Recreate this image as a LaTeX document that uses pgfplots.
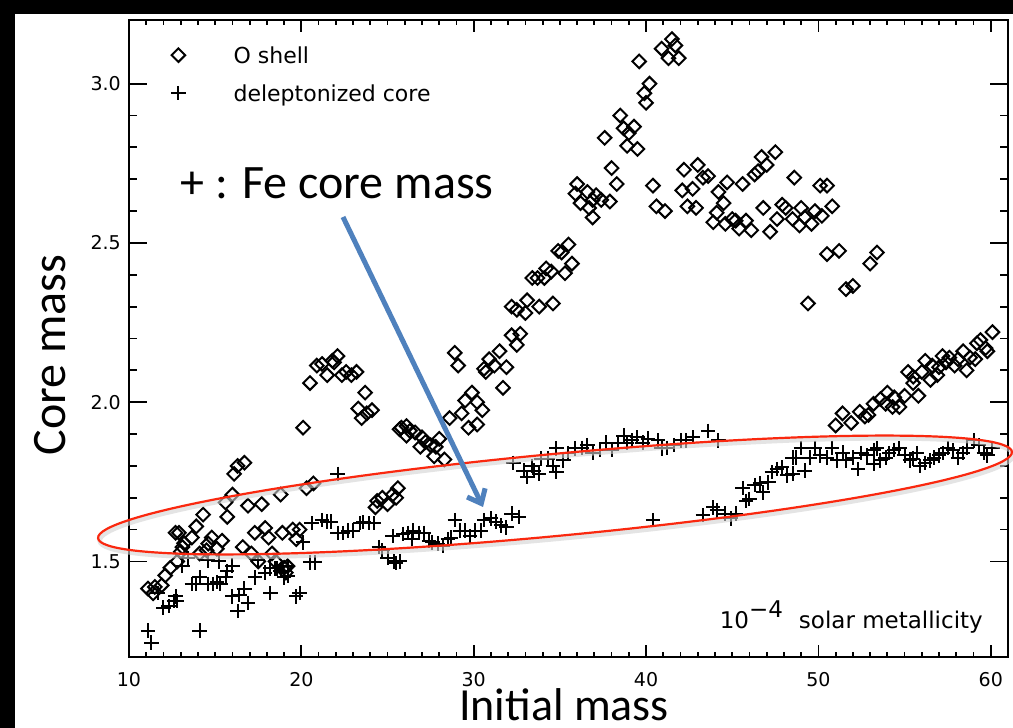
\documentclass[border=0pt]{standalone}
\usepackage{fontspec}
\setmainfont{DejaVu Sans}
\newfontfamily\calibri{Carlito}
\usepackage{pgfplots}
\usepackage{pgfplotstable}
\pgfplotsset{compat=1.18}
\usetikzlibrary{arrows.meta}
\definecolor{arrowblue}{RGB}{79,129,189}
\definecolor{ovalred}{RGB}{250,40,15}

% O shell mass vs initial mass
\pgfplotstableread{
x y
11.1 1.415
11.5 1.42
11.9 1.425
11.4 1.40
12.1 1.456
12.4 1.48
12.8 1.50
13.0 1.53
12.7 1.59
12.9 1.59
13.1 1.545
13.2 1.557
13.65 1.575
13.9 1.61
14.3 1.647
14.1 1.525
14.6 1.556
14.8 1.575
15.1 1.54
15.4 1.565
14.5 1.535
15.7 1.64
15.6 1.685
16.0 1.71
16.1 1.775
16.3 1.80
16.7 1.81
16.6 1.545
16.9 1.675
17.1 1.525
17.3 1.59
17.7 1.68
17.9 1.605
18.1 1.575
17.5 1.50
18.3 1.525
18.5 1.50
18.8 1.71
18.9 1.59
19.0 1.48
19.2 1.485
19.1 1.465
19.5 1.60
19.7 1.57
19.9 1.60
20.1 1.92
20.3 1.73
20.7 1.745
20.5 2.06
20.9 2.115
21.2 2.12
21.5 2.085
21.8 2.13
22.1 2.145
21.9 2.125
22.35 2.085
22.6 2.095
22.9 2.085
23.2 2.095
23.7 2.03
23.3 1.98
23.5 1.95
24.1 1.975
23.8 1.965
24.3 1.67
24.4 1.69
24.7 1.70
25.0 1.68
25.3 1.71
25.5 1.70
25.6 1.73
25.7 1.915
25.8 1.92
26.1 1.925
26.3 1.91
26.6 1.905
26.1 1.895
27.0 1.89
26.9 1.86
27.2 1.875
27.5 1.865
28.0 1.885
27.7 1.83
28.3 1.82
27.8 1.86
28.6 1.95
28.9 2.155
29.1 2.115
29.3 1.965
29.5 2.005
29.9 2.03
30.2 2.00
30.5 1.975
29.7 1.92
30.2 1.93
30.6 2.105
30.9 2.135
31.2 2.115
31.5 2.16
31.9 2.11
31.7 2.045
30.7 2.095
32.2 2.21
32.5 2.18
32.7 2.215
32.2 2.30
32.5 2.29
33.0 2.28
33.1 2.32
33.8 2.30
34.6 2.31
33.4 2.39
33.7 2.39
34.1 2.39
34.2 2.42
34.5 2.41
35.3 2.405
35.7 2.435
34.9 2.475
35.1 2.47
35.5 2.495
35.9 2.655
36.2 2.625
36.6 2.66
36.9 2.635
36.7 2.61
36.9 2.58
37.1 2.65
37.4 2.635
37.9 2.63
36.0 2.685
38.0 2.735
38.3 2.685
37.6 2.83
38.5 2.90
38.7 2.86
39.0 2.845
39.3 2.865
38.9 2.805
39.5 2.795
39.6 3.07
39.9 2.97
40.2 3.00
40.0 2.94
40.9 3.11
41.3 3.08
41.5 3.14
41.7 3.12
41.9 3.08
40.4 2.68
40.6 2.615
41.1 2.60
42.2 2.73
42.1 2.665
42.7 2.67
42.4 2.615
42.9 2.61
43.0 2.745
43.3 2.705
43.6 2.71
43.9 2.565
44.1 2.595
44.2 2.66
44.5 2.625
44.7 2.69
45.6 2.685
44.6 2.56
45.0 2.575
45.2 2.57
45.4 2.545
45.8 2.57
46.1 2.54
46.3 2.715
46.5 2.725
46.7 2.77
47.0 2.745
47.5 2.785
46.8 2.61
47.2 2.535
47.6 2.575
47.9 2.62
48.1 2.61
48.5 2.575
48.6 2.705
48.9 2.555
49.0 2.61
49.2 2.58
49.6 2.56
49.8 2.60
50.2 2.585
50.1 2.68
50.5 2.68
50.8 2.615
49.4 2.31
50.5 2.465
51.2 2.475
51.6 2.355
52.0 2.365
53.0 2.435
53.4 2.47
51.0 1.927
51.4 1.965
51.9 1.935
52.4 1.97
52.7 1.955
52.9 1.96
53.2 1.995
53.6 2.01
53.9 1.995
54.0 2.03
54.3 1.985
54.4 2.015
54.7 1.985
55.0 2.02
55.2 2.095
55.5 2.08
55.5 2.06
55.8 2.02
56.0 2.095
56.2 2.13
56.5 2.07
56.6 2.115
56.9 2.085
57.0 2.11
57.2 2.145
57.4 2.125
57.6 2.14
57.9 2.115
58.1 2.135
58.4 2.16
58.6 2.10
58.8 2.14
59.1 2.135
59.2 2.185
59.4 2.195
59.7 2.17
59.8 2.16
60.1 2.22
}\oshell

% deleptonized (Fe) core mass vs initial mass
\pgfplotstableread{
x y
11.1 1.283
11.3 1.245
12.0 1.355
12.3 1.36
12.6 1.375
12.8 1.375
12.7 1.39
11.7 1.40
13.1 1.487
13.4 1.51
13.65 1.43
13.9 1.43
14.1 1.45
14.1 1.283
14.6 1.43
14.6 1.503
14.9 1.43
15.1 1.435
15.3 1.43
15.6 1.45
15.7 1.47
16.0 1.487
15.2 1.50
16.0 1.39
16.3 1.345
16.4 1.395
16.7 1.415
16.9 1.37
17.3 1.45
17.5 1.503
17.9 1.465
18.2 1.40
18.2 1.478
18.5 1.478
18.6 1.478
18.8 1.47
19.0 1.45
19.2 1.455
19.2 1.485
19.7 1.39
19.9 1.40
20.1 1.56
20.5 1.497
20.8 1.497
20.6 1.62
21.2 1.63
21.5 1.625
21.7 1.625
22.1 1.775
22.1 1.59
22.4 1.59
22.7 1.597
23.0 1.597
23.4 1.62
23.6 1.623
23.9 1.62
24.2 1.62
24.5 1.545
24.7 1.535
25.0 1.51
25.3 1.58
25.5 1.495
25.4 1.50
25.7 1.50
25.9 1.587
26.2 1.59
26.4 1.57
26.5 1.597
26.8 1.59
27.1 1.59
27.4 1.565
27.6 1.56
27.9 1.556
28.2 1.55
28.5 1.57
28.7 1.575
28.9 1.63
29.2 1.597
29.5 1.597
29.8 1.58
30.1 1.597
30.4 1.597
30.6 1.63
31.0 1.635
31.3 1.625
31.6 1.613
31.9 1.607
32.2 1.65
32.6 1.64
32.3 1.81
32.9 1.785
33.1 1.765
33.4 1.80
33.5 1.785
33.8 1.775
33.9 1.823
34.3 1.823
34.6 1.80
34.8 1.78
34.8 1.855
35.2 1.817
35.5 1.84
35.9 1.855
36.3 1.857
36.6 1.865
36.9 1.84
37.3 1.85
37.7 1.873
38.0 1.85
38.4 1.873
38.7 1.895
38.9 1.873
39.2 1.88
39.5 1.89
39.8 1.873
40.1 1.886
40.4 1.63
40.7 1.88
40.9 1.855
41.2 1.857
41.6 1.865
42.0 1.88
42.3 1.88
42.7 1.89
43.6 1.91
44.2 1.88
43.3 1.645
43.9 1.67
44.1 1.66
44.6 1.65
44.9 1.635
45.2 1.65
45.6 1.73
45.8 1.69
46.0 1.697
46.3 1.74
46.6 1.745
46.8 1.717
47.1 1.748
47.3 1.78
47.6 1.79
47.9 1.795
48.2 1.77
48.5 1.776
48.5 1.826
48.7 1.826
49.0 1.857
49.2 1.785
49.5 1.826
49.8 1.857
50.1 1.833
50.5 1.826
50.8 1.857
51.1 1.817
51.4 1.842
51.6 1.817
52.0 1.826
52.3 1.79
52.5 1.84
52.8 1.833
53.2 1.85
53.4 1.855
53.2 1.807
53.6 1.817
53.9 1.826
54.1 1.84
54.4 1.85
54.7 1.855
55.0 1.833
55.3 1.817
55.5 1.823
55.7 1.84
55.9 1.80
56.2 1.81
56.5 1.817
56.7 1.826
57.0 1.833
57.2 1.84
57.5 1.857
57.8 1.85
58.1 1.826
58.4 1.84
58.6 1.857
59.0 1.88
59.3 1.865
59.6 1.84
59.8 1.833
60.1 1.857
}\fecore

\pgfplotsset{
  coremass/.style={
    scale only axis, width=439.5pt, height=318.5pt,
    xmin=10, xmax=61, ymin=1.2, ymax=3.2,
    every axis/.append style={line width=1.2pt},
    tick style={black, line width=0.9pt},
    /pgf/number format/assume math mode=true,
  }
}

\begin{document}
\begin{tikzpicture}
% slide background with the black edges of the screenshot
\path[use as bounding box, fill=white] (-64.5pt,-35.5pt) rectangle (442pt,328.5pt);
\fill[black] (-64.5pt,321.5pt) rectangle (442pt,328.5pt);
\fill[black] (-64.5pt,-35.5pt) rectangle (-57pt,328.5pt);

% y ticks, labels
\begin{axis}[coremass,
  xtick=\empty,
  ytick={1.5,2.0,2.5,3.0}, minor y tick num=4,
  major tick length=9pt, minor tick length=4pt,
  yticklabel style={/pgf/number format/.cd, fixed, fixed zerofill, precision=1, /tikz/.cd,
    font=\fontsize{9.5}{10}\selectfont, inner sep=0pt, xshift=-3.5pt},
  xlabel={Initial mass}, ylabel={Core mass},
  xlabel style={at={(axis description cs:0.495,0)}, anchor=center, yshift=-24pt,
    inner sep=0pt, font=\calibri\fontsize{23}{26}\selectfont},
  ylabel style={at={(axis description cs:-0.0899,0.474)}, anchor=center,
    inner sep=0pt, font=\calibri\fontsize{24}{28}\selectfont},
]
\end{axis}

% data, x ticks, legend
\begin{axis}[coremass,
  ytick=\empty,
  xtick={10,20,...,60}, minor x tick num=9,
  major tick length=6pt, minor tick length=2.5pt,
  xticklabel style={font=\fontsize{9.5}{10}\selectfont, inner sep=0pt, yshift=-7pt},
  only marks,
  legend image code/.code={\draw[mark repeat=2,mark phase=2,#1] plot coordinates {(0pt,4pt) (6pt,4pt) (12pt,4pt)};},
  legend cell align=left,
  legend style={draw=none, fill=none, at={(axis description cs:0,1)}, anchor=north west,
    xshift=20.5pt, yshift=-12.5pt, inner sep=0pt, row sep=10.5pt, column sep=24pt,
    font=\fontsize{11}{12}\selectfont,
    nodes={inner sep=0pt, text height=8.5pt, text depth=0pt, anchor=base west}},
]
\addplot[black, mark=square, mark size=2.4pt, mark options={rotate=45, line width=1pt}] table {\oshell};
\addlegendentry{O shell}
\addplot[black, mark=+, mark size=3.6pt, mark options={line width=1pt}] table {\fecore};
\addlegendentry{deleptonized core}
\node[anchor=base east, inner sep=0pt, font=\fontsize{11.5}{13}\selectfont]
  at (rel axis cs:0.9727,0.0455) {10\raisebox{5.5pt}{−4}\hspace{8pt}solar metallicity};
\end{axis}

% annotations of the slide
\draw[gray!35, line width=2.2pt, opacity=0.6, rotate around={5.4:(213.8pt,79.6pt)}]
  (213.8pt,79.6pt) ellipse [x radius=229.5pt, y radius=20.5pt];
\draw[ovalred, line width=1.1pt, rotate around={5.4:(213pt,81pt)}]
  (213pt,81pt) ellipse [x radius=229.5pt, y radius=20.5pt];
\draw[arrowblue, line width=2.5pt, -{Straight Barb[length=6pt, width=10pt]}]
  (107pt,220pt) -- (177pt,75pt);
\node[font=\calibri\fontsize{24}{28}\selectfont, inner sep=0pt] at (104pt,237pt) {+ : Fe core mass};
\end{tikzpicture}
\end{document}
